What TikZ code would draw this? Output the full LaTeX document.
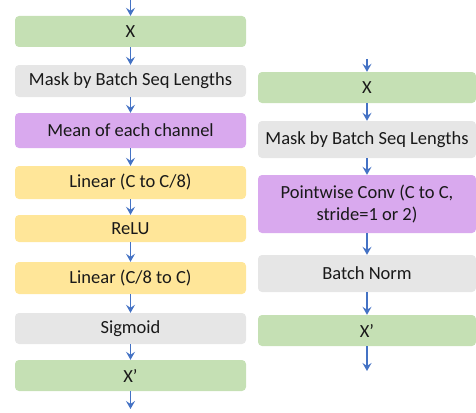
\documentclass[tikz,border=0pt]{standalone}
\usepackage{fontspec}
\setmainfont{Carlito}
\usetikzlibrary{arrows.meta}
\definecolor{cgreen}{HTML}{C5E0B4}
\definecolor{cgrey}{HTML}{E6E6E6}
\definecolor{cpurple}{HTML}{D9A9EE}
\definecolor{cyellow}{HTML}{FFE699}
\definecolor{cblue}{HTML}{4472C4}
\tikzset{
  box/.style={rectangle, rounded corners=4pt, inner sep=0pt, align=center, font=\fontsize{18.5}{22}\selectfont, text=black!90},
  lbox/.style={box, minimum width=231pt},
  rbox/.style={box, minimum width=218pt},
  gbox/.style={fill=cgreen},
  ybox/.style={fill=cyellow},
  pbox/.style={fill=cpurple},
  ebox/.style={fill=cgrey},
  flow/.style={draw=cblue, line width=1.5pt, -{Stealth[length=8pt,width=9pt,inset=3pt]}},
}
\begin{document}
\begin{tikzpicture}[x=1pt,y=-1pt]
\useasboundingbox (0,0) rectangle (476,412);
% left column
\node[lbox,gbox,minimum height=31pt] (lx) at (130.5,31.5) {X};
\node[lbox,ebox,minimum height=32pt] (lmask) at (130.5,81) {Mask by Batch Seq Lengths};
\node[lbox,pbox,minimum height=35pt] (lmean) at (130.5,130.5) {Mean of each channel};
\node[lbox,ybox,minimum height=33pt] (lin1) at (130.5,182.5) {Linear (C to C/8)};
\node[lbox,ybox,minimum height=27pt] (relu) at (130.5,228.5) {ReLU};
\node[lbox,ybox,minimum height=32pt] (lin2) at (130.5,278) {Linear (C/8 to C)};
\node[lbox,ebox,minimum height=31pt] (sig) at (130.5,328.5) {Sigmoid};
\node[lbox,gbox,minimum height=31pt] (lxo) at (130.5,375.5) {X’};
\coordinate (lin) at (130.5,0);
\coordinate (lout) at (130.5,409);
\draw[flow] (lin) -- (lx);
\draw[flow] (lx) -- (lmask);
\draw[flow] (lmask) -- (lmean);
\draw[flow] (lmean) -- (lin1);
\draw[flow] (lin1) -- (relu);
\draw[flow] (relu) -- (lin2);
\draw[flow] (lin2) -- (sig);
\draw[flow] (sig) -- (lxo);
\draw[flow] (lxo) -- (lout);
% right column
\node[rbox,gbox,minimum height=31pt] (rx) at (367,87.5) {X};
\node[rbox,ebox,minimum height=37pt] (rmask) at (367,139.5) {Mask by Batch Seq Lengths};
\node[rbox,pbox,minimum height=58pt] (pw) at (367,204) {Pointwise Conv (C to C,\\stride=1 or 2)};
\node[rbox,ebox,minimum height=37pt] (bn) at (367,273.5) {Batch Norm};
\node[rbox,gbox,minimum height=31pt] (rxo) at (367,330.5) {X’};
\coordinate (rin) at (367,59);
\coordinate (rout) at (367,371);
\draw[flow] (rin) -- (rx);
\draw[flow] (rx) -- (rmask);
\draw[flow] (rmask) -- (pw);
\draw[flow] (pw) -- (bn);
\draw[flow] (bn) -- (rxo);
\draw[flow] (rxo) -- (rout);
\end{tikzpicture}
\end{document}
